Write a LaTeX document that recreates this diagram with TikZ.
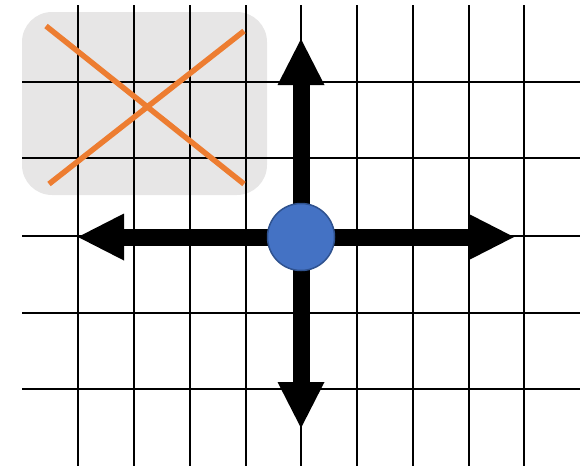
\documentclass[tikz,border=0pt]{standalone}
\usepackage{xcolor}
\usepackage{tikz}
\usetikzlibrary{arrows.meta, positioning}
\definecolor{myblue}{RGB}{68,114,196}
\definecolor{mydarkblue}{RGB}{47,82,143}
\definecolor{myorange}{RGB}{237,125,49}
\definecolor{mygray}{RGB}{231,230,230}
\tikzset{
  gridline/.style={line width=2.5pt, color=black},
  shadebox/.style={fill=mygray, rounded corners=30pt},
  crossline/.style={line width=5.5pt, color=myorange},
  bigarrow/.style={line width=17pt, color=black,
    -{Triangle[length=46pt, width=47pt, line width=0pt]}},
  hub/.style={circle, draw=mydarkblue, fill=myblue,
    minimum size=67pt, inner sep=0pt, line width=1.5pt}
}
\begin{document}
\begin{tikzpicture}[x=1pt, y=-1pt]
  \useasboundingbox (0,0) rectangle (584,467);

  % --- Shaded corner ---
  \fill[shadebox] (22,12) rectangle (267,195);

  % --- Grid ---
  \foreach \y in {82,158,236,313,389}
    \draw[gridline] (22,\y) -- (580,\y);
  \foreach \x in {78,134,190,246,301,357,413,469,524}
    \draw[gridline] (\x,5) -- (\x,466);

  % --- Cross ---
  \draw[crossline] (46,26) -- (244,184);
  \draw[crossline] (244,31) -- (49,184);

  % --- Moves ---
  \coordinate (ctr) at (301,237);
  \coordinate (tipN) at (301,39);
  \coordinate (tipS) at (301,428);
  \coordinate (tipW) at (78,237);
  \coordinate (tipE) at (514,237);
  \draw[bigarrow] (ctr) -- (tipN);
  \draw[bigarrow] (ctr) -- (tipS);
  \draw[bigarrow] (ctr) -- (tipW);
  \draw[bigarrow] (ctr) -- (tipE);
  \node[hub] (piece) at (ctr) {};
\end{tikzpicture}
\end{document}
